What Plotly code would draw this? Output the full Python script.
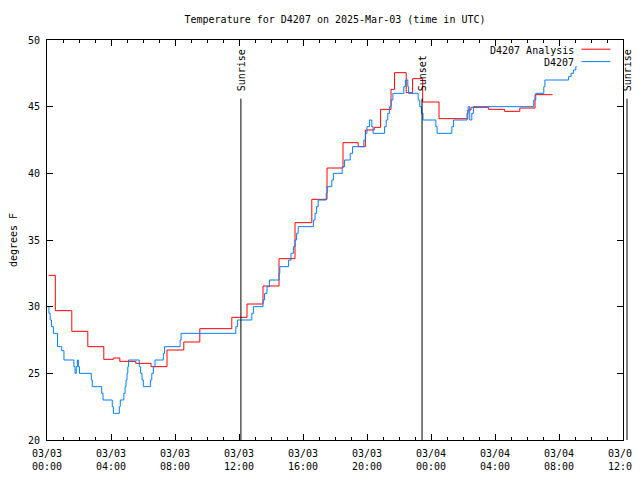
import pandas as pd
import plotly.graph_objects as go

BASE = pd.Timestamp("2025-03-03 00:00")
X_START = "2025-03-03 00:00"
X_END = "2025-03-04 12:00"

# Analysis series (hours since 2025-03-03 00:00 UTC, degrees F)
analysis_hours = [0.1, 0.52, 1.55, 2.55, 3.55, 4.15, 4.55, 5.55, 6.5, 7.5, 8.55, 9.55,
                  11.55, 12.5, 13.5, 14.5, 15.5, 16.55, 17.5, 18.5, 19.45, 19.9, 20.45,
                  20.85, 21.5, 21.72, 22.45, 22.85, 23.48, 24.5, 26.3, 26.5, 27.6, 28.6,
                  29.55, 30.5, 31.6]
analysis_temp = [32.35, 29.7, 28.15, 27.0, 26.05, 26.15, 25.9, 25.75, 25.5, 26.75, 27.35, 28.35,
                 29.2, 30.2, 31.55, 33.6, 36.3, 38.05, 40.4, 42.3, 42.0, 43.25, 43.45,
                 44.8, 46.3, 47.55, 46.05, 47.1, 45.35, 44.1, 44.75, 44.95, 44.8, 44.65,
                 44.9, 45.9, 45.9]

# Observed series
obs_hours = [0.0, 0.12, 0.2, 0.28, 0.4, 0.66, 0.92, 1.06, 1.68, 1.75, 1.83, 1.9, 1.96, 2.03,
             2.77, 2.83, 3.42, 3.5, 4.08, 4.15, 4.52, 4.58, 4.8, 4.88, 4.94, 5.0, 5.05, 5.1,
             5.77, 5.85, 5.94, 6.02, 6.46, 6.55, 6.65, 6.75, 7.27, 7.35, 8.32, 8.38,
             11.8, 11.9, 12.8, 12.9, 13.5, 13.6, 13.75, 13.9, 14.5, 14.55,
             15.1, 15.25, 15.4, 15.5, 15.6, 15.7, 16.65, 16.75, 16.85, 16.95,
             17.45, 17.5, 17.8, 17.9, 18.45, 18.6, 18.95, 19.1, 19.8, 19.9, 20.0, 20.15,
             20.3, 20.38, 21.1, 21.2, 21.3, 21.4, 21.5, 21.62, 22.3, 22.4, 22.55, 22.6,
             23.2, 23.3, 23.4, 23.5, 24.3, 24.38, 25.3, 25.4, 26.25, 26.32, 26.42, 26.55,
             26.65, 30.42, 30.55, 31.05, 31.12, 32.6, 32.75, 32.9, 33.05, 33.1]
obs_temp = [30.0, 29.5, 29.0, 28.5, 28.0, 27.0, 26.7, 26.0, 25.5, 25.0, 25.5, 26.0, 25.5, 25.0,
            24.5, 24.0, 23.5, 23.0, 22.5, 22.0, 22.5, 23.0, 23.5, 24.0, 24.5, 25.0, 25.5, 26.0,
            25.5, 25.0, 24.5, 24.0, 24.5, 25.0, 25.5, 26.0, 26.5, 27.0, 27.5, 28.0,
            28.5, 29.0, 29.5, 30.0, 30.5, 31.0, 31.5, 32.0, 32.5, 33.0,
            33.5, 34.0, 34.5, 35.0, 35.5, 36.0, 36.5, 37.0, 37.5, 38.0,
            38.5, 39.0, 39.5, 40.0, 40.5, 41.0, 41.5, 42.0, 42.5, 43.0, 43.5, 44.0,
            43.5, 43.0, 43.5, 44.0, 44.5, 45.0, 45.5, 46.0, 46.5, 47.0, 46.5, 46.0,
            45.5, 45.0, 44.5, 44.0, 43.5, 43.0, 43.5, 44.0, 44.5, 45.0, 44.0, 44.5,
            45.0, 45.5, 46.0, 46.5, 47.0, 47.25, 47.5, 47.75, 48.0, 48.0]

# Sun events (hours since start)
sun_labels = ["Sunrise", "Sunset", "Sunrise"]
sun_hours = [12.12, 23.44, 36.25]

FONT = "DejaVu Sans Mono"

# the page has an 8px body margin; size the figure to fit the rest of the window
W, H = 632, 464


def to_time(hours):
    return [BASE + pd.Timedelta(hours=h) for h in hours]


fig = go.Figure()
fig.add_trace(go.Scatter(x=to_time(analysis_hours), y=analysis_temp, mode="lines",
                         line=dict(color="#ff0000", width=1, shape="hv"),
                         name="D4207 Analysis"))
fig.add_trace(go.Scatter(x=to_time(obs_hours), y=obs_temp, mode="lines",
                         line=dict(color="#0080ff", width=1, shape="hv"),
                         name="D4207"))

x0 = pd.Timestamp(X_START)
x1 = pd.Timestamp(X_END)
span = (x1 - x0).total_seconds()

shapes = []
annotations = []
for lab, h in zip(sun_labels, sun_hours):
    t = BASE + pd.Timedelta(hours=h)
    px = (t - x0).total_seconds() / span
    shapes.append(dict(type="line", xref="paper", yref="y", x0=px, x1=px, y0=20, y1=45.6,
                       line=dict(color="black", width=1)))
    annotations.append(dict(text=lab, xref="paper", yref="y", x=px, y=46.0,
                            textangle=-90, xanchor="center", yanchor="bottom",
                            showarrow=False, font=dict(family=FONT, size=10, color="black")))

# Key (gnuplot style: label then sample on the right)
key_labels = ["D4207 Analysis", "D4207"]
key_colors = ["#ff0000", "#0080ff"]
key_y = [0.975, 0.944]
for lab, col, ky in zip(key_labels, key_colors, key_y):
    annotations.append(dict(text=lab, xref="paper", yref="paper", x=0.918, y=ky,
                            xanchor="right", yanchor="middle", showarrow=False,
                            font=dict(family=FONT, size=10, color="black")))
    shapes.append(dict(type="line", xref="paper", yref="paper", x0=0.928, x1=0.978,
                       y0=ky + 0.002, y1=ky + 0.002, line=dict(color=col, width=1)))

fig.update_layout(
    width=W, height=H,
    margin=dict(l=39, r=17, t=32, b=32, autoexpand=False),
    paper_bgcolor="white", plot_bgcolor="white",
    showlegend=False,
    font=dict(family=FONT, size=10, color="black"),
    title=dict(text="Temperature for D4207 on 2025-Mar-03 (time in UTC)",
               x=0.5, xref="paper", xanchor="center",
               y=1 - 11 / H, yanchor="middle", yref="container",
               font=dict(family=FONT, size=10, color="black")),
    shapes=shapes,
    annotations=annotations,
)

fig.update_xaxes(type="date", range=[X_START, X_END], tick0=X_START, dtick=4 * 3600 * 1000,
                 tickformat="%m/%d<br>%H:%M", ticks="inside", ticklen=6, tickcolor="black",
                 showline=True, linecolor="black", linewidth=1, mirror="ticks",
                 showgrid=False, zeroline=False, ticklabelstandoff=4,
                 minor=dict(dtick=3600 * 1000, ticks="inside", ticklen=3, tickcolor="black",
                            showgrid=False),
                 tickfont=dict(family=FONT, size=10, color="black"))
fig.update_yaxes(range=[20, 50], dtick=5, ticks="inside", ticklen=6, tickcolor="black",
                 showline=True, linecolor="black", linewidth=1, mirror="ticks",
                 showgrid=False, zeroline=False, ticklabelstandoff=4,
                 title=dict(text="degrees F", font=dict(family=FONT, size=10, color="black"),
                            standoff=14),
                 tickfont=dict(family=FONT, size=10, color="black"))

fig.write_html("out.html")
